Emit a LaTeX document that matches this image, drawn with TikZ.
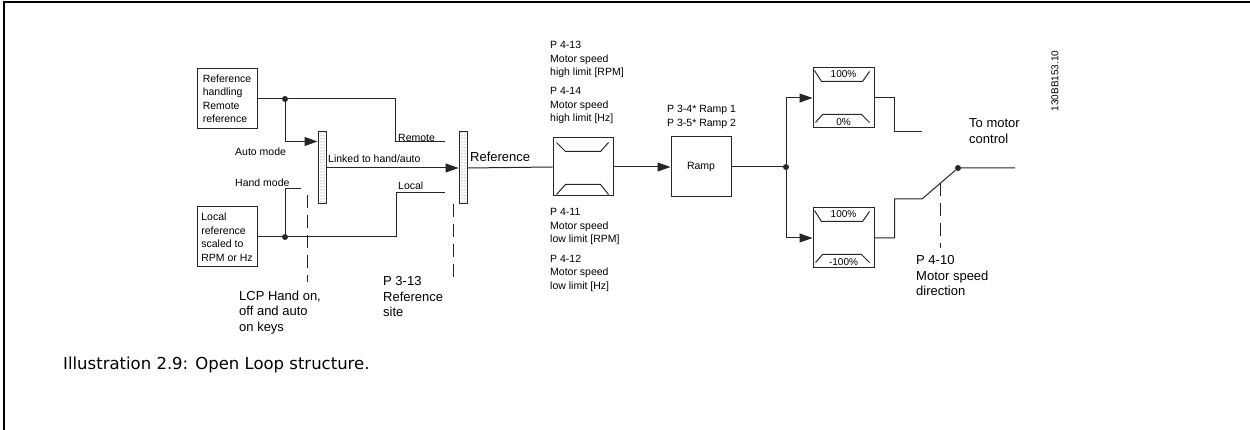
\documentclass[tikz,border=0pt]{standalone}
\usepackage{fontspec}
\setmainfont{Liberation Sans}
\newfontfamily\capfont{DejaVu Sans}
\usetikzlibrary{arrows.meta}
\usetikzlibrary{calc}
\usetikzlibrary{patterns}

\tikzset{
  wire/.style={draw=black!85, line width=1pt},
  arr/.style={wire, -{Triangle[length=13pt,width=9pt]}},
  blk/.style={draw=black!85, line width=1pt, minimum width=60pt, minimum height=60pt, inner sep=0pt, align=left, font=\fontsize{10.5}{13.5}\selectfont},
  swbar/.style={draw=black!85, line width=1pt, pattern=dots, pattern color=black!70, minimum width=8pt, minimum height=72pt, inner sep=0pt},
  jdot/.style={circle, fill=black!85, inner sep=0pt, minimum size=6pt},
  lbl/.style={anchor=west, inner sep=0pt, align=left, font=\fontsize{10.5}{13.5}\selectfont},
  biglbl/.style={anchor=west, inner sep=0pt, align=left, font=\fontsize{13}{15.5}\selectfont},
  pct/.style={inner sep=0pt, font=\fontsize{10}{12}\selectfont},
  guide/.style={draw=black!85, line width=1pt, dash pattern=on 13pt off 7pt}
}

\begin{document}
\begin{tikzpicture}[x=1pt,y=1pt,yscale=-1]
        \useasboundingbox (0,0) rectangle (1250,430);

        %Frame
        \draw [line width=1.5pt] (4,430) -- (4,2) -- (1250,2);

        %Shape: Rectangle [id:remref]
        \node [blk] (remref) at (227,99) {Reference\\handling\\Remote\\reference};
        %Shape: Rectangle [id:locref]
        \node [blk] (locref) at (227,237) {Local\\reference\\scaled to\\RPM or Hz};
        %Junctions
        \node [jdot] (jr) at (285,99) {};
        \node [jdot] (jl) at (285,237) {};
        \node [jdot] (jm) at (786,167) {};
        \node [jdot] (jo) at (958,168) {};
        %Switch bars
        \node [swbar] (sw1) at (322,168) {};
        \node [swbar] (sw2) at (463,168) {};
        %Shape: Rectangle [id:lim]
        \node [blk, minimum height=58pt] (lim) at (583,167) {};
        %Shape: Rectangle [id:ramp]
        \node [blk] (ramp) at (701,167) {Ramp};
        %Shape: Rectangle [id:lim1]
        \node [blk, minimum width=61pt] (lim1) at (843.5,98) {};
        %Shape: Rectangle [id:lim2]
        \node [blk, minimum width=61pt] (lim2) at (843.5,238) {};

        %Open contacts
        \coordinate (remc) at (445,142);
        \coordinate (locc) at (445,193);
        \coordinate (handc) at (301,189);
        \coordinate (upc) at (922,132);
        \coordinate (downc) at (922,199);
        \coordinate (out) at (1015,168);

        %Straight Lines
        \draw [wire] (remref.east) -- (jr) -- (395,99) |- (remc);
        \draw [wire] (locref.east) -- (jl) -- (396,237) |- (locc);
        \draw [arr] (jr) |- ($(sw1.north west)+(0,10)$);
        \draw [wire] (jl) |- (handc);
        \draw [arr] (sw1.east) -- (sw2.west);
        \draw [wire] (sw2.east) -- (lim.west);
        \draw [arr] (lim.east) -- (ramp.west);
        \draw [wire] (ramp.east) -- (jm);
        \draw [arr] (jm) |- (lim1.west);
        \draw [arr] (jm) |- (lim2.west);
        \draw [wire] (lim1.east) -- ++(20,0) |- (upc);
        \draw [wire] (lim2.east) -- ++(20,0) |- (downc) -- (jo) -- (out);

        %Dashed Lines
        \draw [guide] (307,195) -- (307,282);
        \draw [guide] (453,204) -- (453,282);
        \draw [guide] ($(downc)!0.5!(jo)$) -- ++(0,65);

        %Limit marks
        \draw [wire] ($(lim.north west)+(4,5)$) -- ++(9,9) -- ++(35,0) -- ++(8,-9);
        \draw [wire] ($(lim.south west)+(4,-2)$) -- ++(9,-10) -- ++(35,0) -- ++(8,10);
        \draw [wire] ($(lim1.north west)+(2,3)$) -- ++(7,11) -- ++(41,0) -- ++(7,-10);
        \draw [wire] ($(lim1.south west)+(3,-6)$) -- ++(7,-8) -- ++(39,0) -- ++(8,8);
        \draw [wire] ($(lim2.north west)+(2,3)$) -- ++(7,11) -- ++(41,0) -- ++(7,-10);
        \draw [wire] ($(lim2.south west)+(3,-6)$) -- ++(7,-8) -- ++(39,0) -- ++(8,8);
        \node [pct] (lim1hi) at ($(lim1.north)+(0,7)$) {100\%};
        \node [pct] (lim1lo) at ($(lim1.south)+(0,-6.5)$) {0\%};
        \node [pct] (lim2hi) at ($(lim2.north)+(0,7)$) {100\%};
        \node [pct] (lim2lo) at ($(lim2.south)+(0,-6.5)$) {-100\%};

        % Text Node
        \node [lbl] (automode) at (235,152) {Auto mode};
        \node [lbl] (handmode) at (235,183) {Hand mode};
        \node [lbl] (linked) at (328,158.5) {Linked to hand/auto};
        \node [lbl] (remlbl) at (398,137.5) {Remote};
        \node [lbl] (loclbl) at (398,186) {Local};
        \node [biglbl] (reflbl) at (470,157) {Reference};
        \node [lbl] (hirpm) at (550,59.5) {P 4-13\\Motor speed\\high limit [RPM]};
        \node [lbl] (hihz) at (550,105.5) {P 4-14\\Motor speed\\high limit [Hz]};
        \node [lbl] (lorpm) at (550,226.5) {P 4-11\\Motor speed\\low limit [RPM]};
        \node [lbl] (lohz) at (550,273) {P 4-12\\Motor speed\\low limit [Hz]};
        \node [lbl] (ramplbl) at (667,117) {P 3-4* Ramp 1\\P 3-5* Ramp 2};
        \node [biglbl] (tomotor) at (969,131) {To motor\\control};
        \node [biglbl] (dirlbl) at (916,276) {P 4-10\\Motor speed\\direction};
        \node [biglbl] (lcplbl) at (239,312.5) {LCP Hand on,\\off and auto\\on keys};
        \node [biglbl] (sitelbl) at (383,297) {P 3-13\\Reference\\site};
        \node [rotate=90, inner sep=0pt, font=\fontsize{10}{12}\selectfont] (docid) at (1055,81) {130BB153.10};
        \node [anchor=west, inner sep=0pt, font=\capfont\fontsize{16.5}{20}\selectfont] (caption) at (63,365) {Illustration 2.9: Open Loop structure.};

\end{tikzpicture}
\end{document}
